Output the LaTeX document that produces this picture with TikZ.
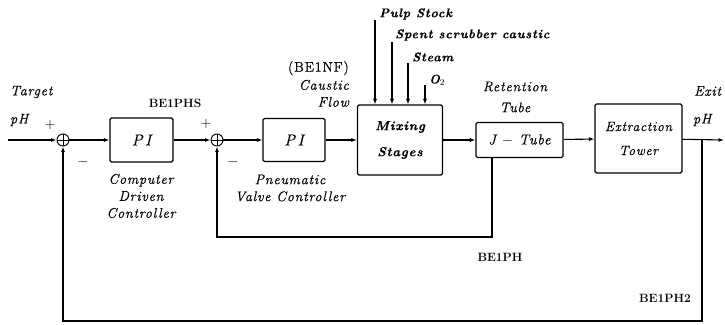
\documentclass[tikz,border=0pt]{standalone}
\usepackage{fontspec}
\usepackage{tikz}
\usetikzlibrary{arrows.meta, positioning, calc}
\newfontfamily\lblfont[LetterSpace=6, FakeBold=0.5]{Latin Modern Roman}
\tikzset{
  block/.style={rectangle, draw, line width=1.1pt, rounded corners=1.5pt,
    inner sep=0pt, align=center, font=\lblfont\itshape\fontsize{16}{18}\selectfont},
  sumnode/.style={circle, draw, line width=0.9pt, minimum size=12pt, inner sep=0pt,
    path picture={\draw[line width=0.7pt]
      (path picture bounding box.north) -- (path picture bounding box.south)
      (path picture bounding box.west) -- (path picture bounding box.east);}},
  arrow/.style={-{Latex[length=5.5pt,width=4pt]}, line width=1.1pt},
  lbl/.style={font=\lblfont\itshape\fontsize{14}{17}\selectfont, align=center, inner sep=0pt},
  boldlbl/.style={font=\lblfont\bfseries\itshape\fontsize{12.5}{17}\selectfont, inner sep=0pt},
  sign/.style={font=\fontsize{14}{14}\selectfont, inner sep=0pt},
  tag/.style={font=\bfseries\fontsize{12}{14}\selectfont, inner sep=0pt}
}

\begin{document}
\begin{tikzpicture}[x=1pt, y=-1pt]
\useasboundingbox (0,0) rectangle (725,324);

%--- SUMMING JUNCTIONS ---
\node[sumnode] (S1) at (63,140) {};
\node[sumnode] (S2) at (217,140) {};
\node[sign] (S1p) at (50,125) {$+$};
\node[sign] (S1m) at (83,162) {$-$};
\node[sign] (S2p) at (206,124) {$+$};
\node[sign] (S2m) at (233,162) {$-$};

%--- BLOCKS ---
\node[block, minimum width=63pt, minimum height=44pt] (PI1) at (141.5,140) {P\,I};
\node[block, minimum width=62pt, minimum height=43pt] (PI2) at (294,140) {P\,I};
\node[block, minimum width=85pt, minimum height=70pt,
  font=\lblfont\bfseries\itshape\fontsize{13}{17}\selectfont] (MIX) at (400,140) {Mixing\\[9pt]Stages};
\node[block, minimum width=87pt, minimum height=35pt,
  font=\lblfont\itshape\fontsize{14.5}{17}\selectfont] (JT) at (519.5,140) {J $-$ Tube};
\node[block, minimum width=87pt, minimum height=69pt,
  font=\lblfont\itshape\fontsize{13.5}{17}\selectfont] (EXT) at (638.5,138.5) {Extraction\\[7pt]Tower};

%--- LABELS ---
\node[lbl, anchor=west] (tgt) at (10,92) {Target};
\node[lbl, anchor=west] (tgtph) at (10,120) {pH};
\node[tag] (bephs) at (175,103) {BE1PHS};
\node[lbl] (cdc) at (141,196) {Computer\\Driven\\Controller};
\node[lbl] (pvc) at (290,188) {Pneumatic\\Valve Controller};
\node[lbl, align=right, anchor=east] (cflow) at (349,84) {{\upshape(BE1NF)}\\[1pt]Caustic\\Flow};
\node[lbl] (ret) at (515,97) {Retention\\[4pt]Tube};
\node[lbl, anchor=west] (exit) at (694,91) {Exit};
\node[lbl, anchor=west] (exitph) at (693,120) {pH};
\node[tag] (beph) at (500,257) {BE1PH};
\node[tag] (beph2) at (665,298) {BE1PH2};

%--- MIXING INPUTS ---
\coordinate (pulp) at (375,20);
\coordinate (spent) at (392,42);
\coordinate (steam) at (408,63);
\coordinate (oxy) at (425,85);
\node[boldlbl, anchor=west] (pulpl) at (379,14) {Pulp Stock};
\node[boldlbl, anchor=west] (spentl) at (395,35) {Spent scrubber caustic};
\node[boldlbl, anchor=west] (steaml) at (412,57) {Steam};
\node[boldlbl, anchor=west] (oxyl) at (429,80) {O$_2$};
\foreach \c in {pulp,spent,steam,oxy} {
  \draw[arrow] (\c) -- (\c |- MIX.north);
}

%--- FORWARD PATH ---
\coordinate (in) at (8,140);
\coordinate (out) at (724,140);
\coordinate (tap) at (702,140);
\draw[arrow] (in) -- (S1);
\draw[arrow] (S1) -- (PI1);
\draw[arrow] (PI1) -- (S2);
\draw[arrow] (S2) -- (PI2);
\draw[arrow] (PI2) -- (MIX);
\draw[arrow] (MIX) -- (JT);
\draw[arrow] (JT) -- (EXT);
\draw[arrow] (EXT) -- (out);

%--- FEEDBACK ---
\coordinate (fb1) at (492,237);
\coordinate (fb2) at (702,321);
\draw[arrow] (JT.south -| fb1) -- (fb1) -| (S2.south);
\draw[arrow] (tap) -- (fb2) -| (S1.south);
\end{tikzpicture}
\end{document}
